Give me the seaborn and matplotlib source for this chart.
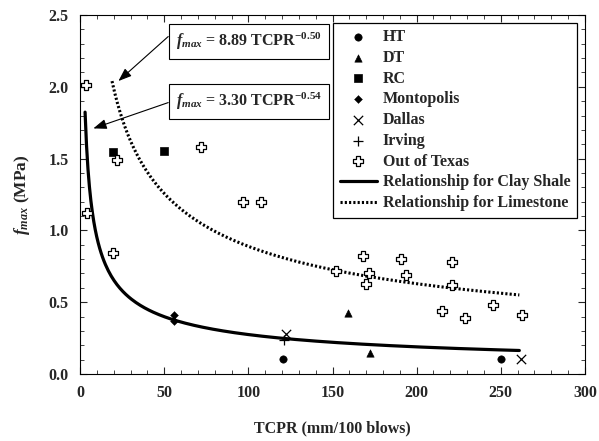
import numpy as np
import pandas as pd
import matplotlib
matplotlib.use("Agg")
import matplotlib.pyplot as plt
import seaborn as sns
from matplotlib.ticker import MultipleLocator

sns.set_style("ticks")
plt.rcParams['font.family'] = ['Liberation Serif', 'DejaVu Serif']
plt.rcParams['font.weight'] = 'bold'
plt.rcParams['mathtext.fontset'] = 'custom'
plt.rcParams['mathtext.rm'] = 'Liberation Serif:bold'
plt.rcParams['mathtext.it'] = 'Liberation Serif:italic:bold'
plt.rcParams['mathtext.bf'] = 'Liberation Serif:bold'

# ---- data ----
ht_x = [120.6, 250.0]
ht_y = [0.104, 0.102]
dt_x = [159.3, 172.0]
dt_y = [0.426, 0.144]
rc_x = [19.3, 49.6]
rc_y = [1.544, 1.556]
mont_x = [55.6, 55.6]
mont_y = [0.414, 0.368]
dallas_x = [122.4, 261.9]
dallas_y = [0.28, 0.102]
irving_x = [121.0]
irving_y = [0.24]
oot_x = [3.4, 4.0, 19.3, 21.8, 71.8, 96.6, 107.5, 151.8, 168.3, 171.6, 170.0,
         190.5, 193.5, 221.2, 221.2, 215.3, 228.8, 245.6, 262.3]
oot_y = [2.01, 1.12, 0.84, 1.49, 1.578, 1.20, 1.20, 0.717, 0.82, 0.70, 0.625,
         0.80, 0.69, 0.78, 0.62, 0.44, 0.39, 0.48, 0.41]

# fitted relationships printed on the chart: f_max = a * TCPR^b
clay_a, clay_b = 3.30, -0.54
lime_a, lime_b = 8.89, -0.50
clay_range = (3.0, 261.0)
lime_range = (19.0, 261.0)

fig = plt.figure(figsize=(5.99, 4.41), dpi=100)
ax = fig.add_axes([0.1336, 0.152, 0.843, 0.814])

cx = np.linspace(*clay_range, 300)
lx = np.linspace(*lime_range, 300)
sns.lineplot(x=cx, y=clay_a * cx ** clay_b, ax=ax, color='k', lw=2.3,
             label='Relationship for Clay Shale', zorder=2)
sns.lineplot(x=lx, y=lime_a * lx ** lime_b, ax=ax, color='k', lw=2.2,
             linestyle=(0, (0.7, 0.7)), label='Relationship for Limestone', zorder=2)

sc = dict(ax=ax, color='k', zorder=3)
sns.scatterplot(x=ht_x, y=ht_y, marker='o', s=28, edgecolor='k', label='HT', **sc)
sns.scatterplot(x=dt_x, y=dt_y, marker='^', s=28, edgecolor='k', label='DT', **sc)
sns.scatterplot(x=rc_x, y=rc_y, marker='s', s=36, edgecolor='k', label='RC', **sc)
sns.scatterplot(x=mont_x, y=mont_y, marker='D', s=16, edgecolor='k', label='Montopolis', **sc)
sns.scatterplot(x=dallas_x, y=dallas_y, marker='x', s=45, linewidth=0.9, label='Dallas', **sc)
sns.scatterplot(x=irving_x, y=irving_y, marker='+', s=45, linewidth=0.9, label='Irving', **sc)
sns.scatterplot(x=oot_x, y=oot_y, marker='P', s=42, facecolor='white', edgecolor='k',
                linewidth=0.9, label='Out of Texas', ax=ax, zorder=3)

ax.set_xlim(0, 300)
ax.set_ylim(0, 2.5)
ax.xaxis.set_major_locator(MultipleLocator(50))
ax.xaxis.set_minor_locator(MultipleLocator(10))
ax.yaxis.set_major_locator(MultipleLocator(0.5))
ax.yaxis.set_minor_locator(MultipleLocator(0.1))
ax.yaxis.set_major_formatter(matplotlib.ticker.FormatStrFormatter('%.1f'))
ax.tick_params(which='both', direction='in', top=True, right=True, labelsize=11.5)
ax.tick_params(which='major', length=5, width=0.8, pad=8)
ax.tick_params(which='minor', length=3, width=0.6)
for s in ax.spines.values():
    s.set_linewidth(0.8)
    s.set_color('k')

ax.set_xlabel('TCPR (mm/100 blows)', fontsize=11.5, fontweight='bold', labelpad=14)
ax.set_ylabel(r'$\mathit{f}_{\mathit{max}}$ (MPa)', fontsize=12.5, fontweight='bold', labelpad=12)

# legend order
h, l = ax.get_legend_handles_labels()
order = ['HT', 'DT', 'RC', 'Montopolis', 'Dallas', 'Irving', 'Out of Texas',
         'Relationship for Clay Shale', 'Relationship for Limestone']
hd = dict(zip(l, h))
leg = ax.legend([hd[k] for k in order], order, loc='upper right',
                bbox_to_anchor=(0.984, 0.979), borderaxespad=0,
                frameon=True, fancybox=False,
                edgecolor='k', framealpha=1, labelspacing=0.3,
                handlelength=2.3, handletextpad=0.4, borderpad=0.4,
                prop={'weight': 'bold', 'size': 11.5})
leg.get_frame().set_linewidth(0.9)

# equation annotations
box = dict(boxstyle='square,pad=0.45', facecolor='white', edgecolor='k', lw=0.8)
ax.text(57.0, 2.315, r'$\mathit{f}_{\mathit{max}}$ = 8.89 TCPR$^{\mathbf{-0.50}}$',
        fontsize=11.5, fontweight='bold', ha='left', va='center', bbox=box, zorder=5)
ax.text(57.0, 1.898, r'$\mathit{f}_{\mathit{max}}$ = 3.30 TCPR$^{\mathbf{-0.54}}$',
        fontsize=11.5, fontweight='bold', ha='left', va='center', bbox=box, zorder=5)
arrow = dict(arrowstyle='-|>,head_length=0.8,head_width=0.3', color='k', lw=0.8,
             shrinkA=0, shrinkB=0)
ax.annotate('', xy=(22.8, 2.04), xytext=(52.4, 2.35), arrowprops=arrow, zorder=4)
ax.annotate('', xy=(7.9, 1.71), xytext=(52.4, 1.89), arrowprops=arrow, zorder=4)

fig.savefig('out.png', dpi=100)
